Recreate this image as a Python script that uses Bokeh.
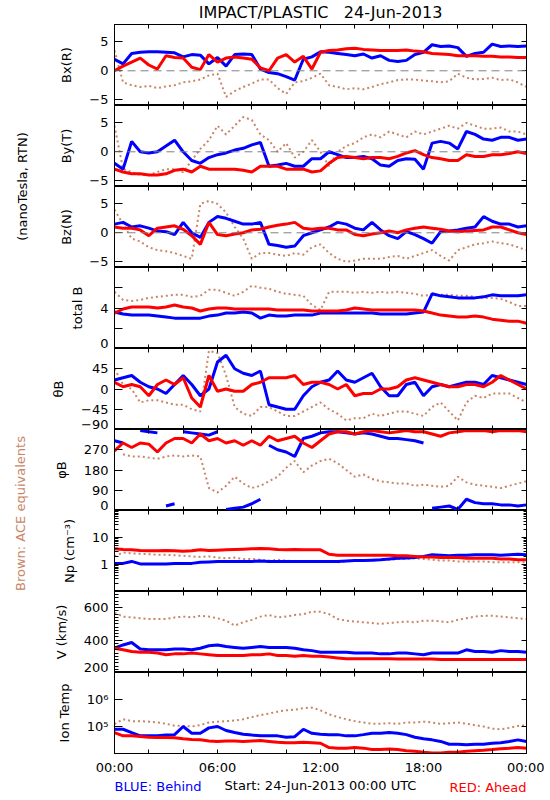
import numpy as np
from bokeh.plotting import figure
from bokeh.layouts import column, row
from bokeh.models import (Range1d, FixedTicker, LinearAxis, LogAxis, Span,
                          CustomJSTickFormatter)
from bokeh.embed import file_html
from bokeh.resources import INLINE
from bokeh.core.properties import value

# ---------------- data (30-min samples, 00:00 .. 24:00) ----------------
BX_ACE = [3.5, -2.0, -2.5, -2.8, -2.6, -3.0, -2.7, -2.5, -2.0, -1.8, -1.5, -0.8, -0.5, -4.5, -3.5, -2.8, -2.2, -1.5, -1.5, -3.0, -4.0, -2.0, -1.8, -1.2, -0.5, -2.5, -2.8, -3.2, -3.0, -3.2, -2.8, -2.3, -2.0, -1.6, -1.5, -1.5, -1.7, -1.8, -2.0, -1.8, -0.5, -1.2, -1.5, -1.4, -1.2, -1.6, -1.5, -2.0, -2.8]
BX_BLUE = [2.0, 1.2, 3.0, 3.2, 3.3, 3.3, 3.2, 3.1, 2.4, 2.8, 2.7, 1.2, 2.3, 0.8, 2.8, 2.9, 2.8, 0.3, -0.3, -0.5, -1.0, -1.6, 2.0, 2.4, 3.3, 3.2, 3.0, 2.8, 2.6, 2.9, 2.2, 2.6, 1.8, 1.6, 1.8, 2.8, 3.2, 4.5, 4.2, 4.3, 4.0, 2.5, 3.0, 3.2, 4.6, 4.2, 4.3, 4.2, 4.3]
BX_RED = [0.0, 0.8, 1.5, 2.2, 1.0, 0.3, 2.6, 2.3, 2.2, 0.6, 0.2, 2.8, 1.5, 2.2, 2.4, 2.2, 2.0, 0.5, 0.0, 2.2, 2.8, 1.5, 2.5, 0.3, 3.2, 3.5, 3.6, 3.8, 3.9, 3.7, 3.6, 3.5, 3.5, 3.5, 3.6, 3.4, 3.3, 3.0, 2.9, 2.8, 2.6, 2.6, 2.6, 2.5, 2.5, 2.4, 2.4, 2.3, 2.3]

BY_ACE = [4.5, -3.0, -3.5, -4.0, -4.0, -3.5, -3.0, -3.0, -3.5, -1.5, 0.5, 2.0, 4.5, 3.0, 4.5, 6.0, 5.5, 3.0, 2.0, 0.0, 1.5, -1.0, 0.0, 2.0, 0.0, -2.5, 0.0, 1.0, 1.5, 2.5, 3.0, 2.5, 3.5, 3.0, 2.5, 3.5, 3.0, 3.5, 4.0, 4.5, 4.0, 5.0, 4.5, 4.0, 4.0, 4.2, 3.5, 3.5, 3.0]
BY_BLUE = [-2.0, -3.0, 1.8, 0.0, -0.2, 0.0, 1.0, 2.0, 0.0, -1.5, -2.0, -1.0, -0.5, -0.2, 0.3, 0.6, 1.2, 1.6, -2.5, -2.3, -2.0, -2.5, -2.5, -1.2, -1.2, 0.0, -0.5, -1.0, -1.0, -0.8, -1.2, -2.3, -2.5, -1.5, -1.2, -1.3, -3.0, 1.5, 1.8, 1.5, 0.5, 3.5, 3.0, 2.2, 2.0, 2.5, 2.5, 2.0, 2.2]
BY_RED = [-3.0, -3.5, -3.8, -3.8, -4.0, -4.0, -3.8, -3.2, -3.0, -3.5, -2.5, -3.0, -3.0, -3.0, -3.0, -3.2, -3.5, -2.5, -2.5, -2.5, -3.0, -3.0, -3.0, -3.5, -3.3, -2.0, -1.0, -0.8, -1.0, -1.2, -1.0, -1.0, -1.2, -0.8, -0.2, 0.2, -0.5, -1.0, -1.2, -1.5, -1.5, -0.5, -0.8, -0.8, -0.5, -0.5, -0.3, 0.0, -0.3]

BZ_ACE = [4.0, 1.5, -1.0, -1.5, -2.5, -3.0, -3.2, -3.5, -4.0, -4.5, 5.0, 5.5, 5.0, 3.5, 1.0, -1.0, -4.5, -3.5, -3.5, -3.8, -4.0, -3.5, -3.8, -2.5, -2.0, -3.5, -4.5, -5.0, -4.8, -4.5, -4.5, -4.5, -4.2, -4.0, -4.5, -4.0, -3.5, -3.0, -4.0, -4.8, -3.0, -2.5, -2.0, -1.8, -1.5, -1.8, -2.0, -2.5, -3.0]
BZ_BLUE = [1.5, 1.8, 1.0, 1.2, 0.8, 0.3, 0.2, -0.3, 1.8, 0.0, -0.8, 1.8, 2.8, 2.5, 2.0, 1.5, 1.5, 1.8, -2.0, -2.2, -2.5, -2.3, -0.5, 0.0, 0.5, 1.0, 1.8, 1.5, 0.8, 0.5, 1.8, 0.5, -0.5, -1.0, 0.2, -0.3, -1.0, -1.8, 0.2, 0.3, 0.5, 0.8, 1.0, 2.8, 2.0, 1.5, 1.5, 1.0, 1.2]
BZ_RED = [1.0, 0.8, 0.8, 0.5, -0.5, 0.8, 1.0, 1.2, 0.6, -0.5, -2.0, 1.8, -0.3, -0.5, -0.2, 0.0, 0.5, 0.6, 1.0, 1.3, 1.5, 1.8, 0.8, 0.6, 0.8, 0.8, 0.5, 0.5, -0.3, -0.5, -0.2, 0.0, 0.3, 0.0, 0.5, 0.8, 1.0, 0.8, 0.6, 0.3, 0.2, 0.3, 0.4, 0.5, 1.0, 1.0, 0.5, 0.0, -0.3]

BT_ACE = [5.6, 4.8, 4.7, 4.8, 5.0, 5.1, 5.2, 5.3, 5.3, 5.1, 5.2, 5.8, 5.8, 5.5, 5.2, 5.6, 6.2, 6.0, 5.9, 5.6, 5.4, 5.3, 5.2, 4.3, 3.8, 5.6, 5.6, 5.6, 5.5, 5.6, 5.5, 5.6, 5.5, 5.6, 5.5, 5.4, 5.2, 5.3, 5.3, 5.3, 5.2, 5.2, 5.1, 5.0, 5.0, 4.9, 4.6, 4.2, 4.2]
BT_BLUE = [3.6, 3.4, 3.3, 3.3, 3.3, 3.2, 3.1, 3.0, 3.0, 3.0, 3.0, 3.2, 3.3, 3.5, 3.5, 3.6, 3.5, 3.0, 3.3, 3.2, 3.2, 3.3, 3.3, 3.3, 3.5, 3.5, 3.5, 3.5, 3.5, 3.5, 3.5, 3.4, 3.4, 3.4, 3.4, 3.5, 3.6, 5.4, 5.2, 5.1, 5.0, 5.0, 5.0, 5.1, 5.3, 5.2, 5.2, 5.2, 5.3]
BT_RED = [3.5, 3.9, 4.1, 4.1, 4.1, 4.0, 4.1, 4.3, 4.1, 4.0, 3.7, 3.9, 4.0, 4.0, 3.9, 3.9, 3.9, 3.9, 3.9, 3.8, 3.8, 3.8, 3.8, 3.7, 3.7, 3.7, 3.7, 3.8, 4.0, 3.9, 3.8, 3.8, 3.8, 3.8, 3.8, 3.8, 3.7, 3.5, 3.3, 3.2, 3.1, 3.1, 3.2, 3.1, 2.9, 2.8, 2.7, 2.7, 2.5]

TH_ACE = [45, 10, 0, -30, -25, -25, -30, -35, -35, -45, -50, 85, 80, 30, -40, -55, -60, -40, -40, -50, -60, -60, -50, -40, -30, -45, -55, -70, -65, -65, -55, -60, -55, -50, -50, -55, -60, -40, -30, -50, -70, -30, -15, -20, -10, -10, -10, -20, -30]
TH_BLUE = [20, 25, 30, 15, 5, 0, -10, 10, 30, 10, -15, 0, 60, 75, 45, 35, 30, 40, -35, -40, -45, -45, -15, 5, 15, 20, 40, 20, 15, 25, 35, 5, -15, -15, 10, 15, -15, 5, 10, 5, 10, 15, 15, 10, 30, 25, 20, 15, 10]
TH_RED = [15, 5, 10, 5, -15, 10, 20, 10, 25, -20, -40, 30, -5, 0, -5, -5, 10, 15, 25, 25, 25, 30, 10, 15, 15, 10, 0, 10, -15, -10, -10, 0, 0, 5, 20, 25, 20, 15, 10, 5, 5, 10, 10, 5, 15, 30, 20, 10, 0]

PH_ACE = [60, 250, 240, 240, 235, 230, 240, 245, 240, 245, 240, 100, 80, 110, 150, 120, 100, 110, 130, 150, 190, 220, 170, 200, 220, 230, 210, 180, 150, 160, 140, 130, 125, 120, 120, 110, 115, 110, 105, 110, 150, 125, 115, 110, 105, 100, 110, 120, 130]
PH_BLUE = [310, 300, 30, 355, 350, 345, 20, 30, 350, 345, 340, 335, 350, 5, 10, 15, 30, 50, 290, 270, 260, 240, 320, 330, 345, 350, 350, 345, 340, 345, 340, 330, 320, 320, 315, 310, 300, 10, 15, 20, 5, 50, 35, 30, 30, 25, 25, 20, 25]
PH_RED = [265, 300, 280, 300, 295, 260, 300, 320, 320, 300, 340, 310, 320, 300, 310, 290, 310, 290, 330, 310, 320, 330, 300, 280, 310, 340, 350, 350, 340, 350, 355, 350, 345, 350, 355, 350, 350, 340, 330, 345, 350, 355, 355, 355, 350, 355, 355, 355, 350]

NP_ACE = [2.0, 2.8, 2.6, 2.5, 2.4, 2.3, 2.3, 2.2, 2.1, 2.0, 1.9, 2.0, 1.8, 1.7, 1.8, 1.6, 1.6, 1.5, 1.4, 1.5, 1.4, 1.3, 1.3, 1.3, 1.3, 1.3, 1.2, 1.3, 1.4, 1.4, 1.4, 1.5, 1.5, 1.6, 1.6, 1.7, 1.6, 1.5, 1.4, 1.4, 1.3, 1.3, 1.3, 1.3, 1.2, 1.2, 1.2, 1.2, 1.2]
NP_BLUE = [1.1, 1.1, 1.3, 1.05, 1.05, 1.05, 1.05, 1.1, 1.1, 1.1, 1.2, 1.25, 1.3, 1.3, 1.3, 1.3, 1.3, 1.35, 1.3, 1.3, 1.3, 1.3, 1.3, 1.3, 1.3, 1.3, 1.3, 1.35, 1.4, 1.4, 1.45, 1.5, 1.6, 1.7, 1.75, 1.8, 2.0, 2.3, 2.2, 2.1, 2.2, 2.2, 2.3, 2.3, 2.3, 2.2, 2.3, 2.4, 2.3]
NP_RED = [3.8, 3.6, 3.5, 3.3, 3.2, 3.2, 3.3, 3.2, 3.1, 3.2, 3.5, 3.3, 3.4, 3.5, 3.6, 3.7, 3.8, 3.9, 3.8, 3.6, 3.5, 3.6, 3.5, 3.5, 3.5, 2.4, 2.2, 2.2, 2.2, 2.2, 2.2, 2.2, 2.2, 2.1, 2.1, 2.0, 1.9, 1.9, 1.8, 1.8, 1.8, 1.7, 1.7, 1.7, 1.7, 1.6, 1.6, 1.5, 1.5]

V_ACE = [570, 545, 540, 535, 530, 530, 530, 540, 545, 540, 550, 545, 535, 520, 490, 510, 525, 545, 555, 540, 545, 555, 560, 575, 575, 560, 530, 520, 515, 510, 505, 500, 505, 510, 515, 510, 520, 520, 515, 510, 525, 535, 545, 550, 550, 545, 540, 535, 530]
V_BLUE = [350, 370, 385, 345, 340, 340, 340, 345, 345, 340, 350, 365, 370, 360, 355, 350, 355, 360, 355, 355, 355, 350, 340, 335, 325, 325, 325, 325, 320, 320, 320, 315, 315, 320, 320, 315, 310, 320, 320, 320, 320, 340, 330, 330, 325, 335, 330, 330, 325]
V_RED = [350, 340, 330, 325, 325, 320, 310, 315, 315, 320, 315, 310, 305, 305, 305, 305, 310, 310, 315, 305, 305, 300, 305, 300, 300, 295, 290, 285, 285, 285, 285, 285, 285, 283, 283, 283, 283, 283, 280, 280, 280, 280, 280, 280, 280, 280, 280, 280, 280]

T_ACE = [123000, 186000, 158000, 158000, 151000, 141000, 126000, 107000, 105000, 100000, 112000, 141000, 151000, 158000, 166000, 186000, 224000, 263000, 302000, 355000, 398000, 417000, 479000, 501000, 398000, 282000, 224000, 186000, 158000, 141000, 126000, 126000, 132000, 126000, 141000, 141000, 151000, 141000, 126000, 132000, 141000, 126000, 112000, 100000, 83000, 79000, 89000, 105000, 112000]
T_BLUE = [79000, 79000, 59000, 45000, 45000, 45000, 48000, 50000, 100000, 56000, 56000, 89000, 100000, 71000, 60000, 52000, 48000, 45000, 45000, 45000, 40000, 42000, 79000, 56000, 52000, 50000, 50000, 45000, 45000, 50000, 56000, 56000, 60000, 56000, 50000, 40000, 35000, 32000, 28000, 22000, 22000, 21000, 22000, 22000, 24000, 25000, 28000, 32000, 28000]
T_RED = [59000, 45000, 45000, 43000, 40000, 39000, 39000, 38000, 35000, 33000, 32000, 29000, 28000, 29000, 29000, 28000, 29000, 30000, 28000, 26000, 25000, 25000, 26000, 25000, 24000, 16600, 15800, 15800, 16600, 15800, 14100, 14100, 14800, 14100, 12600, 12000, 11200, 10500, 10500, 11200, 11200, 12000, 12600, 13200, 14100, 15100, 15800, 16600, 15800]

HOUR_TICKS = [0, 2, 4, 6, 8, 10, 12, 14, 16, 18, 20, 22, 24]
HOUR_NAMES = ["00:00", "", "", "06:00", "", "", "12:00", "", "", "18:00", "", "", "00:00"]

# ---------------- styling ----------------
FONT = "DejaVu Sans"
BLUE = "#0000FF"
RED = "#FF0000"
ACE = "#C98566"
LEFTFIG, LEFT, FW, RIGHT, FH = 48, 64, 412, 20, 81
XLAB = 22
BOTTOM = 20
TOPH = 24
HIDE = CustomJSTickFormatter(code="return ''")


def series(vals, jump=None):
    y = np.array(vals, dtype=float)
    x = np.linspace(0.0, 24.0, len(y))
    if jump is None:
        return x, y
    xs, ys = [x[0]], [y[0]]
    for i in range(1, len(y)):
        if abs(y[i] - y[i - 1]) > jump:
            xs.append(np.nan)
            ys.append(np.nan)
        xs.append(x[i])
        ys.append(y[i])
    return np.array(xs), np.array(ys)


def style_axis(ax, tick_in, show_labels, minor_in=0):
    ax.axis_line_color = "black"
    ax.major_tick_line_color = "black"
    ax.minor_tick_line_color = "black"
    ax.major_tick_in = tick_in
    ax.major_tick_out = 0
    ax.minor_tick_in = minor_in
    ax.minor_tick_out = 0
    ax.major_label_text_font = FONT
    ax.axis_label_text_font = FONT
    ax.axis_label_text_font_style = "normal"
    ax.axis_label_text_font_size = "13px"
    ax.axis_label_text_color = "black"
    if show_labels:
        ax.major_label_text_color = "black"
        ax.major_label_text_font_size = "13px"
        ax.major_label_standoff = 6
        ax.axis_label_standoff = 12
    else:
        ax.formatter = HIDE
        ax.major_label_text_color = None
        ax.major_label_text_font_size = "0px"
        ax.major_label_standoff = 0
        ax.axis_label_standoff = 0


def panel(label, ace, blue, red, yr, ticks, names, log=False, minor=None,
          right_minor=False, zero=False, last=False, jump=None, lift=None):
    p = figure(frame_width=FW, frame_height=FH,
               min_border_left=LEFT, min_border_right=RIGHT,
               min_border_top=0, min_border_bottom=XLAB if last else 0,
               x_range=Range1d(0, 24), y_range=Range1d(*yr),
               y_axis_type="log" if log else "linear",
               x_axis_location=None, y_axis_location=None,
               output_backend="svg", toolbar_location=None,
               background_fill_color="white", border_fill_color="white")
    p.grid.grid_line_color = None
    p.outline_line_color = "black"
    AxisCls = LogAxis if log else LinearAxis

    names = list(names)
    if lift is not None:
        # the label of the tick on the lower edge is nudged up inside the panel
        names[0] = names[0] + "\n"
    lax = AxisCls(ticker=FixedTicker(ticks=ticks, minor_ticks=minor or []),
                  major_label_overrides=dict(zip(ticks, names)), axis_label=label)
    style_axis(lax, 8, True, 4)
    if lift is not None:
        lax.major_label_text_line_height = lift
    p.add_layout(lax, "left")
    rax = AxisCls(ticker=FixedTicker(ticks=ticks,
                                     minor_ticks=(minor or []) if right_minor else []))
    style_axis(rax, 5, False, 3)
    p.add_layout(rax, "right")

    bax = LinearAxis(ticker=FixedTicker(ticks=HOUR_TICKS),
                     major_label_overrides=dict(zip(HOUR_TICKS, HOUR_NAMES)))
    style_axis(bax, 4, last)
    p.add_layout(bax, "below")
    tax = LinearAxis(ticker=FixedTicker(ticks=HOUR_TICKS))
    style_axis(tax, 4, False)
    p.add_layout(tax, "above")

    if zero:
        p.add_layout(Span(location=0, dimension="width", line_color="#808080",
                          line_dash="8 5", line_width=1))

    x, y = series(ace, jump)
    p.line(x, y, line_color=ACE, line_width=2, line_dash="2 3")
    x, y = series(blue, jump)
    p.line(x, y, line_color=BLUE, line_width=3)
    x, y = series(red, jump)
    p.line(x, y, line_color=RED, line_width=3)
    return p


def text_fig(height, xr, yr, width=FW, left=LEFT, right=RIGHT):
    f = figure(frame_width=width, frame_height=height,
               min_border_left=left, min_border_right=right,
               min_border_top=0, min_border_bottom=0,
               x_range=xr, y_range=yr,
               x_axis_location=None, y_axis_location=None,
               output_backend="svg", toolbar_location=None,
               background_fill_color="white", border_fill_color="white")
    f.grid.grid_line_color = None
    f.outline_line_color = None
    return f


B_TICKS = [-5, 0, 5]
B_NAMES = ["\u22125", "0", "5"]

panels = [
    panel("Bx(R)", BX_ACE, BX_BLUE, BX_RED, (-6, 8), B_TICKS, B_NAMES, zero=True),
    panel("By(T)", BY_ACE, BY_BLUE, BY_RED, (-6, 8), B_TICKS, B_NAMES, zero=True),
    panel("Bz(N)", BZ_ACE, BZ_BLUE, BZ_RED, (-6, 8), B_TICKS, B_NAMES, zero=True),
    panel("total B", BT_ACE, BT_BLUE, BT_RED, (0, 8), [0, 2, 4, 6],
          ["0", "", "4", ""], lift=-0.15),
    panel("\u03b8B", TH_ACE, TH_BLUE, TH_RED, (-90, 90), [-90, -45, 0, 45],
          ["\u221290", "\u221245", "0", "45"], lift=-0.15),
    panel("\u03c6B", PH_ACE, PH_BLUE, PH_RED, (0, 360), [0, 90, 180, 270],
          ["0", "90", "180", "270"], jump=150, lift=-0.15),
    panel("Np (cm\u207b\u00b3)", NP_ACE, NP_BLUE, NP_RED, (0.1, 100), [1, 10],
          ["1", "10"], log=True,
          minor=[0.2, 0.3, 0.4, 0.5, 0.6, 0.7, 0.8, 0.9, 2, 3, 4, 5, 6, 7, 8, 9,
                 20, 30, 40, 50, 60, 70, 80, 90], right_minor=True),
    panel("V (km/s)", V_ACE, V_BLUE, V_RED, (200, 700), [200, 400, 600],
          ["200", "400", "600"], minor=list(range(200, 701, 20)), lift=-0.15),
    panel("Ion Temp", T_ACE, T_BLUE, T_RED, (1e4, 1e7), [100000, 1000000],
          ["10\u2075", "10\u2076"], log=True, last=True),
]

# title
top = text_fig(TOPH, Range1d(0, 24), Range1d(0, TOPH))
top.text(x=[12], y=[12], text=["IMPACT/PLASTIC\u00a0\u00a0 24-Jun-2013"], text_align="center",
         text_baseline="middle", text_font=value(FONT), text_font_size="16px",
         text_color="black")

# bottom legend line
bot = text_fig(BOTTOM, Range1d(0, 24), Range1d(0, BOTTOM))
bot.text(x=[0], y=[11], text=["BLUE: Behind"], text_align="left", text_baseline="middle",
         text_font=value(FONT), text_font_size="13px", text_color=BLUE)
bot.text(x=[12], y=[12], text=["Start: 24-Jun-2013 00:00 UTC"], text_align="center",
         text_baseline="middle", text_font=value(FONT), text_font_size="13px",
         text_color="black")
bot.text(x=[24], y=[10], text=["RED: Ahead"], text_align="right", text_baseline="middle",
         text_font=value(FONT), text_font_size="13px", text_color=RED)

# left side rotated labels
TOTAL_H = TOPH + 9 * FH + XLAB + BOTTOM
left = text_fig(TOTAL_H, Range1d(0, LEFTFIG), Range1d(TOTAL_H, 0),
                width=LEFTFIG, left=0, right=0)
left.text(x=[22], y=[186], text=["(nanoTesla, RTN)"], angle=np.pi / 2,
          text_align="center", text_baseline="middle", text_font=value(FONT),
          text_font_size="13px", text_color="black")
left.text(x=[20], y=[513], text=["Brown: ACE equivalents"], angle=np.pi / 2,
          text_align="center", text_baseline="middle", text_font=value(FONT),
          text_font_size="13px", text_color=ACE)

layout = row(left, column(top, *panels, bot, spacing=0), spacing=0)

open("out.html", "w").write(file_html(layout, INLINE, "IMPACT/PLASTIC"))
